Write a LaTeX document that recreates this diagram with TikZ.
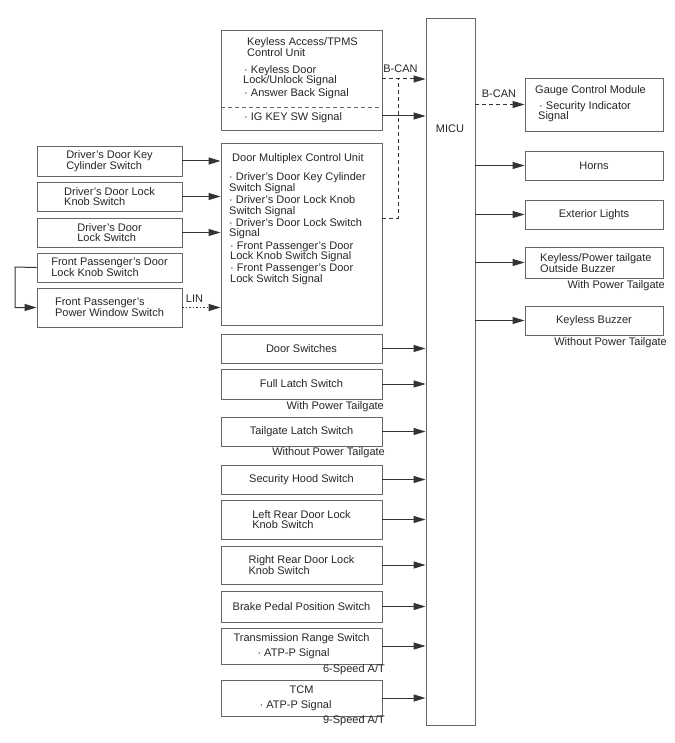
\documentclass[tikz,border=0pt]{standalone}
\usepackage{fontspec}
\setmainfont{Liberation Sans}
\usetikzlibrary{arrows.meta}
\definecolor{txtc}{HTML}{262626}
\definecolor{linec}{HTML}{333333}
\definecolor{boxc}{HTML}{666666}
\begin{document}
\begin{tikzpicture}[x=1pt,y=-1pt,
  box/.style={draw=boxc, line width=0.9pt, rectangle, inner sep=0pt, align=left,
    font=\fontsize{11}{10.5}\selectfont, text=txtc},
  lbox/.style={box, minimum width=145pt},
  mbox/.style={box, minimum width=161pt},
  rbox/.style={box, minimum width=138pt},
  txt/.style={inner sep=0pt, align=left, font=\fontsize{11}{10.5}\selectfont, text=txtc},
  tip/.style={-{Triangle[length=12pt,width=7pt]}},
  arr/.style={draw=linec, line width=1pt, tip},
  busdash/.style={draw=linec, line width=1pt, dash pattern=on 4pt off 3pt},
  lindot/.style={draw=linec, line width=1.2pt, dash pattern=on 1.5pt off 2pt}]
\useasboundingbox (0,0) rectangle (674,743);
\fill[white] (0,0) rectangle (674,743);

% MICU
\node[box, minimum width=49pt, minimum height=707pt] (micu) at (450.5,371.5) {};
\node[txt] (micul) at (450,129) {MICU};

% Left column
\node[lbox, minimum height=30pt] (l1) at (109.5,161) {Driver's Door Key\\Cylinder Switch};
\node[lbox, minimum height=29pt] (l2) at (109.5,196.5) {Driver's Door Lock\\Knob Switch};
\node[lbox, minimum height=29pt] (l3) at (109.5,232.5) {Driver's Door\\Lock Switch};
\node[lbox, minimum height=29pt] (l4) at (109.5,267.5) {Front Passenger's Door\\Lock Knob Switch};
\node[lbox, minimum height=39pt] (l5) at (109.5,307.5) {Front Passenger's\\Power Window Switch};

% Middle column
\node[mbox, minimum height=100pt] (kl) at (301.5,80) {};
\node[txt, anchor=west] (klt) at (247,47) {Keyless Access/TPMS\\Control Unit};
\node[txt, anchor=west] (kls1) at (243,75.5) {\hspace*{1pt}· Keyless Door\\Lock/Unlock Signal};
\node[txt, anchor=west] (kls2) at (244,94) {· Answer Back Signal};
\node[txt, anchor=west] (kls3) at (244,118) {· IG KEY SW Signal};
\coordinate (kdl) at (221,107);
\coordinate (kdr) at (382,107);
\draw[busdash, draw=boxc, line width=0.9pt] (kdl) -- (kdr);

\node[mbox, minimum height=182pt] (dm) at (301.5,234) {};
\node[txt, anchor=west] (dmt) at (232,159) {Door Multiplex Control Unit};
\node[txt, anchor=west] (dm1) at (229,183) {· Driver's Door Key Cylinder\\Switch Signal};
\node[txt, anchor=west] (dm2) at (229,206) {· Driver's Door Lock Knob\\Switch Signal};
\node[txt, anchor=west] (dm3) at (229,228.5) {· Driver's Door Lock Switch\\Signal};
\node[txt, anchor=west] (dm4) at (230,252) {· Front Passenger's Door\\Lock Knob Switch Signal};
\node[txt, anchor=west] (dm5) at (230,274.5) {· Front Passenger's Door\\Lock Switch Signal};

\node[mbox, minimum height=29pt] (ds) at (301.5,348.5) {Door Switches};
\node[mbox, minimum height=30pt] (fl) at (301.5,384) {Full Latch Switch};
\node[mbox, minimum height=29pt] (tl) at (301.5,431.5) {Tailgate Latch Switch};
\node[mbox, minimum height=29pt] (sh) at (301.5,479.5) {Security Hood Switch};
\node[mbox, minimum height=39pt] (lr) at (301.5,519.5) {Left Rear Door Lock\\Knob Switch};
\node[mbox, minimum height=38pt] (rr) at (301.5,565) {Right Rear Door Lock\\Knob Switch};
\node[mbox, minimum height=31pt] (bp) at (301.5,606.5) {Brake Pedal Position Switch};
\node[mbox, minimum height=36pt, align=center] (tr) at (301.5,646) {Transmission Range Switch\\[4.5pt]· ATP-P Signal\hspace*{16pt}};
\node[mbox, minimum height=36pt, align=center] (tcm) at (301.5,698) {TCM\\[4.5pt]· ATP-P Signal\hspace*{12pt}};

\node[txt, anchor=east] (c1) at (384,407) {With Power Tailgate};
\node[txt, anchor=east] (c2) at (385,453) {Without Power Tailgate};
\node[txt, anchor=east] (c3) at (385,670) {6-Speed A/T};
\node[txt, anchor=east] (c4) at (385,721) {9-Speed A/T};

% Right column
\node[rbox, minimum height=53pt] (gc) at (594,104.5) {};
\node[txt, anchor=west] (gct) at (535,91) {Gauge Control Module};
\node[txt, anchor=west] (gcs) at (538,111.5) {\hspace*{1pt}· Security Indicator\\Signal};
\node[rbox, minimum height=29pt] (hn) at (594,165.5) {Horns};
\node[rbox, minimum height=29pt] (el) at (594,214.5) {Exterior Lights};
\node[rbox, minimum height=31pt] (kp) at (594,262.5) {};
\node[txt, anchor=west] (kpt) at (540,263) {Keyless/Power tailgate\\Outside Buzzer};
\node[rbox, minimum height=29pt] (kb) at (594,320.5) {Keyless Buzzer};
\node[txt, anchor=east] (c5) at (665,286) {With Power Tailgate};
\node[txt, anchor=east] (c6) at (667,343) {Without Power Tailgate};

% Labels
\node[txt] (bcan1) at (400.5,69) {B-CAN};
\node[txt] (bcan2) at (499,94) {B-CAN};
\node[txt] (lin) at (194.5,299) {LIN};

% Connectors: left column to door multiplex
\draw[arr] (l1) -- (l1 -| dm.west);
\draw[arr] (l2) -- (l2 -| dm.west);
\draw[arr] (l3) -- (l3 -| dm.west);
\draw[lindot, tip] (l5) -- (l5 -| dm.west);
\coordinate (lp1) at (15,267);
\draw[arr] (l4.west) -- (lp1) |- (l5.west);

% Keyless to MICU
\coordinate (kb1) at (382,79);
\coordinate (kb2) at (382,116);
\draw[busdash, tip] (kb1) -- (kb1 -| micu.west);
\draw[arr] (kb2) -- (kb2 -| micu.west);
\coordinate (dmb) at (382,218);
\coordinate (jn) at (398,79);
\draw[busdash] (dmb) -| (jn);

% Middle boxes to MICU
\foreach \n in {ds,fl,tl,sh,lr,rr,bp,tr,tcm}
  \draw[arr] (\n) -- (\n -| micu.west);

% MICU to right boxes
\draw[busdash, tip] (gc -| micu.east) -- (gc.west);
\foreach \n in {hn,el,kp,kb}
  \draw[arr] (\n -| micu.east) -- (\n.west);
\end{tikzpicture}
\end{document}
